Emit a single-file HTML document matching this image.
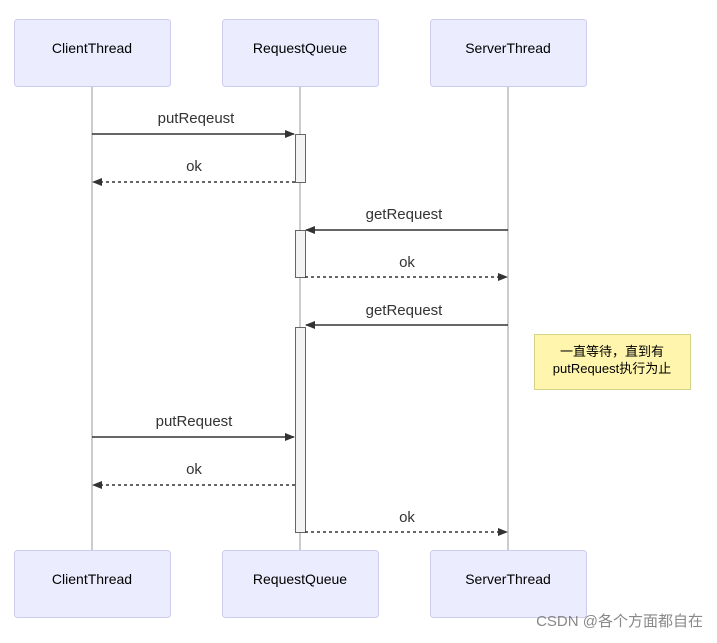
<!DOCTYPE html>
<html><head><meta charset="utf-8"><style>
body{margin:0;background:#fff;width:717px;height:638px;overflow:hidden}
</style></head><body>
<svg width="717" height="638" viewBox="0 0 717 638" xmlns="http://www.w3.org/2000/svg" font-family="'Liberation Sans','Noto Sans CJK SC',sans-serif">
<defs>
<marker id="a" markerWidth="10" markerHeight="8" refX="9" refY="4" orient="auto" markerUnits="userSpaceOnUse"><path d="M0,0 L10,4 L0,8 z" fill="#333"/></marker>
</defs>
<g stroke="#999" stroke-width="1">
<line x1="92" y1="86" x2="92" y2="550"/>
<line x1="300" y1="86" x2="300" y2="550"/>
<line x1="508" y1="86" x2="508" y2="550"/>
</g>
<g fill="#ececff" stroke="#ccccee" stroke-width="1">
<rect x="14.5" y="19.5" width="156" height="67" rx="3"/>
<rect x="222.5" y="19.5" width="156" height="67" rx="3"/>
<rect x="430.5" y="19.5" width="156" height="67" rx="3"/>
<rect x="14.5" y="550.5" width="156" height="67" rx="3"/>
<rect x="222.5" y="550.5" width="156" height="67" rx="3"/>
<rect x="430.5" y="550.5" width="156" height="67" rx="3"/>
</g>
<g font-size="14" text-anchor="middle" fill="#000">
<text x="92" y="53">ClientThread</text><text x="300" y="53">RequestQueue</text><text x="508" y="53">ServerThread</text>
<text x="92" y="584">ClientThread</text><text x="300" y="584">RequestQueue</text><text x="508" y="584">ServerThread</text>
</g>
<g fill="#f4f4f4" stroke="#666">
<rect x="295.5" y="134.5" width="10" height="48"/>
<rect x="295.5" y="230.5" width="10" height="47"/>
<rect x="295.5" y="327.5" width="10" height="205"/>
</g>
<rect x="534.5" y="334.5" width="156" height="55" fill="#fff5ad" stroke="#d4d48a"/>
<g font-size="13" text-anchor="middle" fill="#000">
<text x="612" y="356">一直等待，直到有</text><text x="612" y="373">putRequest执行为止</text>
</g>
<g stroke="#333" stroke-width="1.5" fill="none">
<line x1="92" y1="134" x2="294" y2="134" marker-end="url(#a)"/>
<line x1="295" y1="182" x2="93" y2="182" stroke-dasharray="3,3" marker-end="url(#a)"/>
<line x1="508" y1="230" x2="306" y2="230" marker-end="url(#a)"/>
<line x1="305" y1="277" x2="507" y2="277" stroke-dasharray="3,3" marker-end="url(#a)"/>
<line x1="508" y1="325" x2="306" y2="325" marker-end="url(#a)"/>
<line x1="92" y1="437" x2="294" y2="437" marker-end="url(#a)"/>
<line x1="295" y1="485" x2="93" y2="485" stroke-dasharray="3,3" marker-end="url(#a)"/>
<line x1="305" y1="532" x2="507" y2="532" stroke-dasharray="3,3" marker-end="url(#a)"/>
</g>
<g font-size="15" text-anchor="middle" fill="#333">
<text x="196" y="123">putReqeust</text>
<text x="194" y="171">ok</text>
<text x="404" y="219">getRequest</text>
<text x="407" y="267">ok</text>
<text x="404" y="315">getRequest</text>
<text x="194" y="426">putRequest</text>
<text x="194" y="474">ok</text>
<text x="407" y="522">ok</text>
</g>
<text x="703" y="626" font-size="15" text-anchor="end" fill="#888">CSDN @各个方面都自在</text>
</svg>
</body></html>
